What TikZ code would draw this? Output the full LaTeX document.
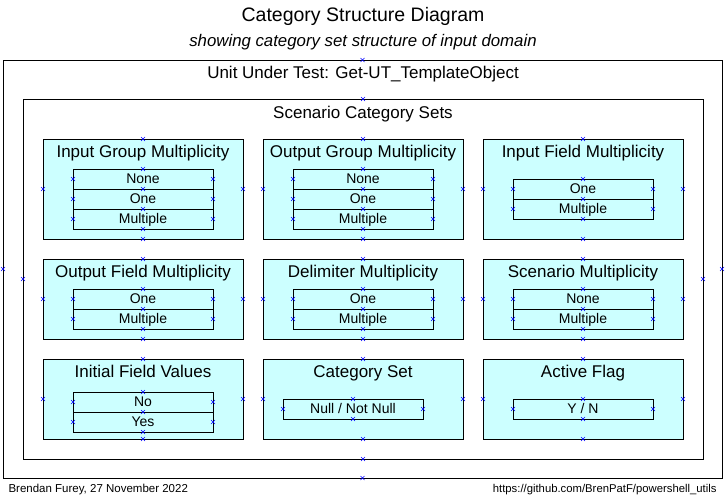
\documentclass[tikz,border=0pt]{standalone}
\usepackage{fontspec}
\setmainfont{Liberation Sans}
\usetikzlibrary{shapes.misc}
\definecolor{cyanfill}{HTML}{CCFFFF}
\definecolor{markblue}{HTML}{0000FF}
\tikzset{
  frame/.style={draw=black, line width=0.9pt, fill=white, anchor=north west, inner sep=0pt, outer sep=0pt},
  catbox/.style={draw=black, line width=0.9pt, fill=cyanfill, anchor=north west, inner sep=0pt, outer sep=0pt, minimum width=200pt, minimum height=100pt},
  cell/.style={draw=black, line width=0.9pt, inner sep=0pt, outer sep=0pt, minimum width=140pt, minimum height=20pt, text height=11pt, text depth=2pt, font=\fontsize{14}{14}\selectfont, anchor=north},
  boxtitle/.style={font=\fontsize{17}{17}\selectfont, anchor=base},
  xmark/.style={cross out, draw=markblue, line width=0.5pt, minimum size=3.5pt, inner sep=0pt},
}
\newcommand{\xm}[1]{\node[xmark] at (#1) {};}
\newcommand{\boxmarks}[1]{\xm{#1.north}\xm{#1.south}\xm{#1.west}\xm{#1.east}}
\newcommand{\rowmarks}[1]{\xm{#1.north}\xm{#1.west}\xm{#1.east}}
\begin{document}
\begin{tikzpicture}[x=1pt,y=-1pt]
\useasboundingbox (0,0) rectangle (727,495);
\fill[white] (0,0) rectangle (727,495);

% titles
\node[font=\fontsize{19.5}{19.5}\selectfont, anchor=base] (title) at (363,22) {Category Structure Diagram};
\node[font=\fontsize{16.8}{16.8}\selectfont\itshape, anchor=base] (sub) at (363,46) {showing category set structure of input domain};

% outer frames
\node[frame, minimum width=719pt, minimum height=418pt] (uut) at (3,60) {};
\node[boxtitle] (uutt) at (363,78) {Unit Under Test: Get-UT\_TemplateObject};
\node[frame, minimum width=680pt, minimum height=360pt] (scs) at (23,99) {};
\node[boxtitle] (scst) at (363,118) {Scenario Category Sets};

% row 1
\node[catbox] (b11) at (43,139) {};
\node[boxtitle] at ([yshift=-18.5pt]b11.north) {Input Group Multiplicity};
\node[cell] (b11a) at (143,169) {None};
\node[cell] (b11b) at (b11a.south) {One};
\node[cell] (b11c) at (b11b.south) {Multiple};

\node[catbox] (b12) at (263,139) {};
\node[boxtitle] at ([yshift=-18.5pt]b12.north) {Output Group Multiplicity};
\node[cell] (b12a) at (363,169) {None};
\node[cell] (b12b) at (b12a.south) {One};
\node[cell] (b12c) at (b12b.south) {Multiple};

\node[catbox] (b13) at (483,139) {};
\node[boxtitle] at ([yshift=-18.5pt]b13.north) {Input Field Multiplicity};
\node[cell] (b13a) at (583,179) {One};
\node[cell] (b13b) at (b13a.south) {Multiple};

% row 2
\node[catbox, minimum height=80pt] (b21) at (43,259) {};
\node[boxtitle] at ([yshift=-18pt]b21.north) {Output Field Multiplicity};
\node[cell] (b21a) at (143,289) {One};
\node[cell] (b21b) at (b21a.south) {Multiple};

\node[catbox, minimum height=80pt] (b22) at (263,259) {};
\node[boxtitle] at ([yshift=-18pt]b22.north) {Delimiter Multiplicity};
\node[cell] (b22a) at (363,289) {One};
\node[cell] (b22b) at (b22a.south) {Multiple};

\node[catbox, minimum height=80pt] (b23) at (483,259) {};
\node[boxtitle] at ([yshift=-18pt]b23.north) {Scenario Multiplicity};
\node[cell] (b23a) at (583,289) {None};
\node[cell] (b23b) at (b23a.south) {Multiple};

% row 3
\node[catbox, minimum height=80pt] (b31) at (43,359) {};
\node[boxtitle] at ([yshift=-18pt]b31.north) {Initial Field Values};
\node[cell] (b31a) at (143,392) {No};
\node[cell] (b31b) at (b31a.south) {Yes};

\node[catbox, minimum height=80pt] (b32) at (263,359) {};
\node[boxtitle] at ([yshift=-18pt]b32.north) {Category Set};
\node[cell] (b32a) at (353,399) {Null / Not Null};

\node[catbox, minimum height=80pt] (b33) at (483,359) {};
\node[boxtitle] at ([yshift=-18pt]b33.north) {Active Flag};
\node[cell] (b33a) at (583,399) {Y / N};

% footer
\node[font=\fontsize{11.5}{11.5}\selectfont, anchor=base west] (foot1) at (5,492) {Brendan Furey, 27 November 2022};
\node[font=\fontsize{11.3}{11.3}\selectfont, anchor=base east] (foot2) at (720,492) {https://github.com/BrenPatF/powershell\_utils};

% connection marks
\boxmarks{uut}\boxmarks{scs}
\boxmarks{b11}\boxmarks{b12}\boxmarks{b13}
\boxmarks{b21}\boxmarks{b22}\boxmarks{b23}
\boxmarks{b31}\boxmarks{b32}\boxmarks{b33}
\rowmarks{b11a}\rowmarks{b11b}\rowmarks{b11c}\xm{b11c.south}
\rowmarks{b12a}\rowmarks{b12b}\rowmarks{b12c}\xm{b12c.south}
\rowmarks{b13a}\rowmarks{b13b}\xm{b13b.south}
\rowmarks{b21a}\rowmarks{b21b}\xm{b21b.south}
\rowmarks{b22a}\rowmarks{b22b}\xm{b22b.south}
\rowmarks{b23a}\rowmarks{b23b}\xm{b23b.south}
\rowmarks{b31a}\rowmarks{b31b}\xm{b31b.south}
\rowmarks{b32a}\xm{b32a.south}
\rowmarks{b33a}\xm{b33a.south}
\end{tikzpicture}
\end{document}
